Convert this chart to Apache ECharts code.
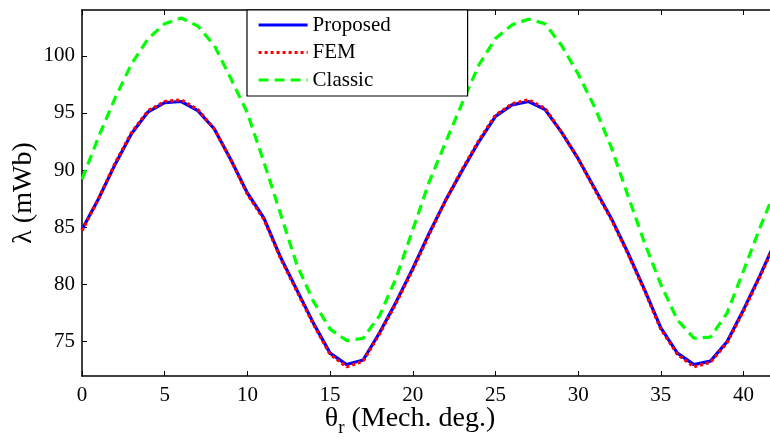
<!DOCTYPE html>
<html>
<head>
<meta charset="utf-8">
<script src="https://cdn.jsdelivr.net/npm/echarts@6/dist/echarts.min.js"></script>
<style>html,body{margin:0;padding:0;background:#fff}#c{width:770px;height:445px}</style>
</head>
<body>
<div id="c"></div>
<script>
const theta = [0,1,2,3,4,5,6,7,8,9,10,11,12,13,14,15,16,17,18,19,20,21,22,23,24,25,26,27,28,29,30,31,32,33,34,35,36,37,38,39,40,41,42];
const proposed = [84.8,87.5,90.5,93.2,95.1,95.9,96.0,95.2,93.6,90.9,88.0,85.8,82.4,79.5,76.6,74.0,73.0,73.4,75.8,78.5,81.4,84.5,87.4,90.0,92.5,94.7,95.7,96.0,95.3,93.3,91.0,88.4,85.8,82.8,79.6,76.2,74.0,73.0,73.3,75.0,77.8,80.8,84.0];
const fem      = [84.7,87.5,90.6,93.3,95.2,96.0,96.15,95.3,93.6,90.9,87.9,85.7,82.3,79.4,76.5,73.9,72.8,73.3,75.7,78.4,81.3,84.4,87.4,90.1,92.6,94.8,95.8,96.15,95.4,93.3,91.0,88.3,85.7,82.7,79.5,76.1,73.9,72.8,73.2,74.9,77.7,80.7,83.9];
const classic  = [89.2,92.9,96.3,99.3,101.5,102.8,103.3,102.6,100.9,98.0,95.0,90.7,86.2,81.7,78.5,76.1,75.1,75.3,77.3,80.6,84.8,89.0,92.5,95.9,99.2,101.5,102.7,103.2,102.8,100.9,98.4,95.5,92.0,87.8,83.7,80.0,76.9,75.3,75.4,77.5,81.2,85.0,88.5];
const xTicks = [0,5,10,15,20,25,30,35,40];
const yTicks = [75,80,85,90,95,100];

const FONT = 'Liberation Serif';
const pair = a => theta.map((t, i) => [t, a[i]]);

const chart = echarts.init(document.getElementById('c'), null, {renderer: 'canvas'});
const axisLine = {show: true, lineStyle: {color: '#000', width: 1.5}};
const tick = {show: true, inside: true, length: 5, lineStyle: {color: '#000', width: 1}};
chart.setOption({
  animation: false,
  backgroundColor: '#fff',
  grid: {left: 82, top: 10, right: 0, bottom: 69, containLabel: false, outerBoundsMode: 'none'},
  xAxis: [{
    type: 'value', min: 0, max: 41.6, position: 'bottom',
    axisLine: axisLine,
    axisTick: Object.assign({customValues: xTicks}, tick),
    axisLabel: {customValues: xTicks, margin: 9, fontFamily: FONT, fontSize: 21, color: '#000'},
    splitLine: {show: false},
    name: '{a|θ}{s|r}{a| (Mech. deg.)}',
    nameLocation: 'middle', nameGap: 23, nameMoveOverlap: false,
    nameTextStyle: {
      padding: [0, 32, 0, 0],
      rich: {
        a: {fontFamily: FONT, fontSize: 28, color: '#000', lineHeight: 32, verticalAlign: 'middle'},
        s: {fontFamily: FONT, fontSize: 19, color: '#000', padding: [20, 0, 0, 0], verticalAlign: 'bottom'}
      }
    }
  }, {
    type: 'value', min: 0, max: 41.6, position: 'top',
    axisLine: axisLine,
    axisTick: Object.assign({customValues: xTicks}, tick),
    axisLabel: {show: false},
    splitLine: {show: false}
  }],
  yAxis: [{
    type: 'value', min: 72, max: 104,
    axisLine: axisLine,
    axisTick: Object.assign({customValues: yTicks}, tick),
    axisLabel: {customValues: yTicks, margin: 7, fontFamily: FONT, fontSize: 21, color: '#000'},
    splitLine: {show: false},
    name: 'λ (mWb)', nameLocation: 'middle', nameGap: 44, nameRotate: 90, nameMoveOverlap: false,
    nameTextStyle: {fontFamily: FONT, fontSize: 28, color: '#000'}
  }],
  legend: {
    orient: 'vertical', left: 247, top: 10,
    backgroundColor: '#fff', borderColor: '#000', borderWidth: 1.2, borderRadius: 0,
    padding: [4, 5, 5, 10],
    itemWidth: 49, itemHeight: 14, itemGap: 5.5, itemTextGap: 5,
    itemStyle: {opacity: 0},
    lineStyle: {width: 3.2},
    textStyle: {fontFamily: FONT, fontSize: 21, color: '#000', lineHeight: 22, width: 150},
    data: ['Proposed', 'FEM', 'Classic']
  },
  series: [
    {name: 'Classic', type: 'line', data: pair(classic), showSymbol: false, symbol: 'none', clip: true,
     lineStyle: {color: '#00ff00', width: 3.2, type: [10, 6]}, itemStyle: {color: '#00ff00'}, z: 2},
    {name: 'Proposed', type: 'line', data: pair(proposed), showSymbol: false, symbol: 'none', clip: true,
     lineStyle: {color: '#0000ff', width: 3.2, type: 'solid'}, itemStyle: {color: '#0000ff'}, z: 3},
    {name: 'FEM', type: 'line', data: pair(fem), showSymbol: false, symbol: 'none', clip: true,
     lineStyle: {color: '#ff0000', width: 3.2, type: [3, 3]}, itemStyle: {color: '#ff0000'}, z: 4}
  ]
});
</script>
</body>
</html>
